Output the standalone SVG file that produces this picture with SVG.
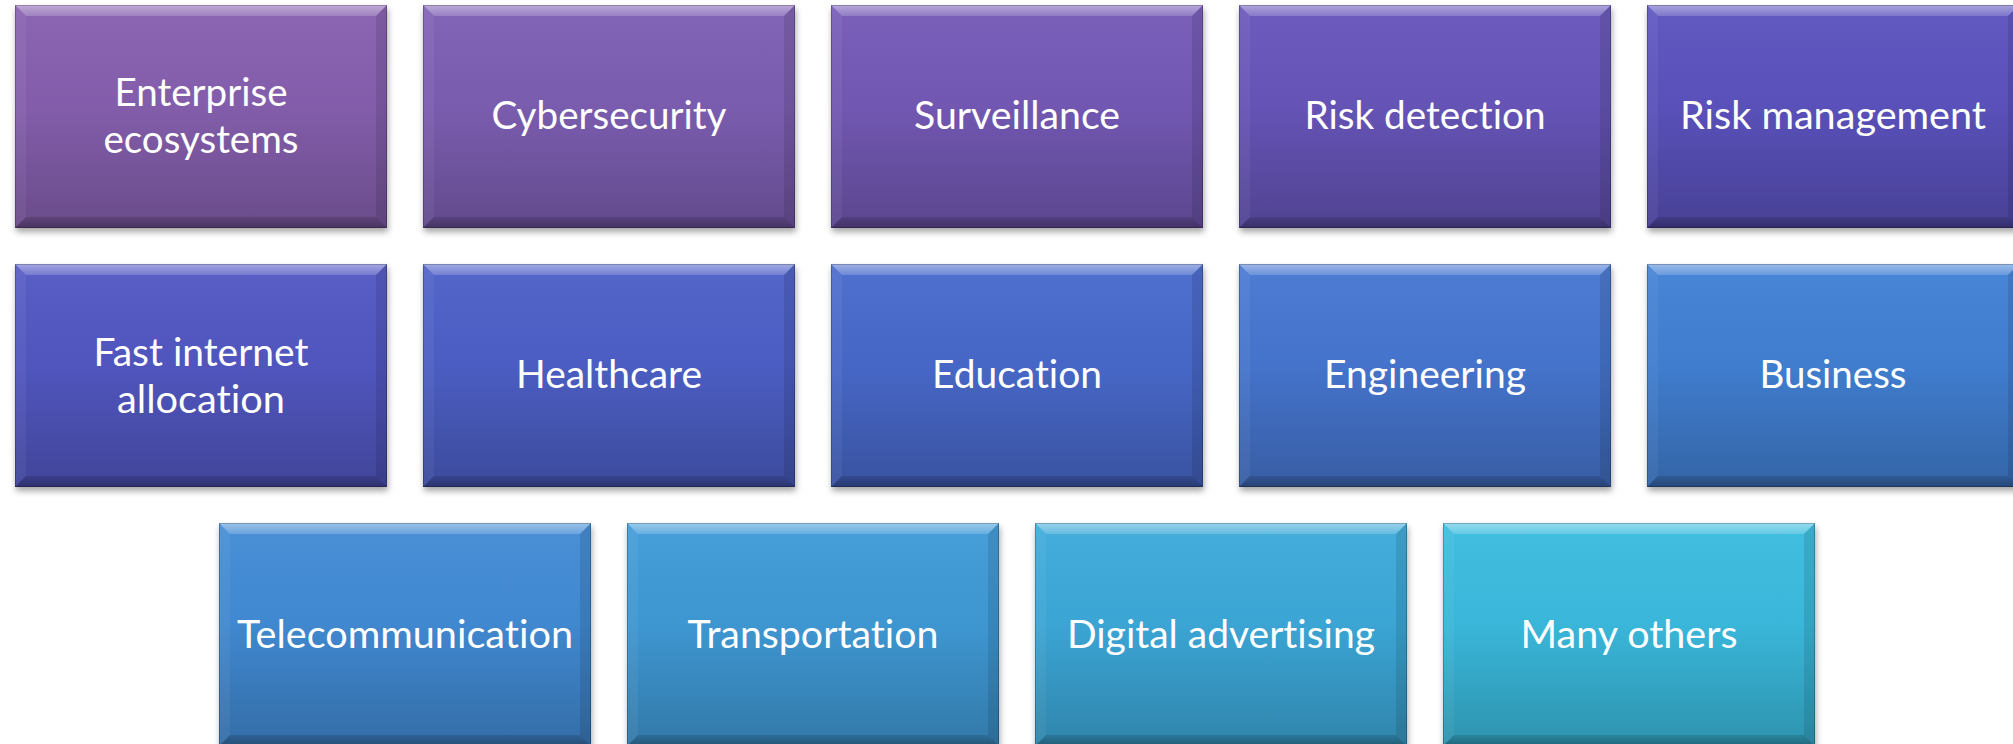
<svg xmlns="http://www.w3.org/2000/svg" xmlns:xlink="http://www.w3.org/1999/xlink" width="2013" height="744" viewBox="0 0 2013 744">
<style>
  .lbl { font-family: Lato, "Open Sans", "Liberation Sans", sans-serif; font-size: 38px; fill: #ffffff; text-anchor: middle; font-variant-ligatures: none; font-feature-settings: "liga" 0, "clig" 0; }
  .shade { fill: url(#shade); }
  .base { filter: url(#shadow); }
</style>
<defs>
  <linearGradient id="shade" x1="0" y1="0" x2="0" y2="1">
    <stop offset="0" stop-color="#ffffff" stop-opacity="0.04"/>
    <stop offset="0.45" stop-color="#000000" stop-opacity="0.03"/>
    <stop offset="1" stop-color="#000000" stop-opacity="0.22"/>
  </linearGradient>
  <linearGradient id="topBevel" x1="0" y1="0" x2="0" y2="1">
    <stop offset="0" stop-color="#ffffff" stop-opacity="0.45"/>
    <stop offset="1" stop-color="#ffffff" stop-opacity="0.18"/>
  </linearGradient>
  <linearGradient id="botBevel" x1="0" y1="0" x2="0" y2="1">
    <stop offset="0" stop-color="#000000" stop-opacity="0.12"/>
    <stop offset="1" stop-color="#000000" stop-opacity="0.3"/>
  </linearGradient>
  <filter id="shadow" x="-5%" y="-5%" width="112%" height="115%">
    <feDropShadow dx="1" dy="4" stdDeviation="3" flood-color="#000000" flood-opacity="0.35"/>
  </filter>
  <g id="bevel">
    <polygon points="0,0 372,0 361,11 11,11" fill="url(#topBevel)"/>
    <polygon points="0,0 11,11 11,212 0,223" fill="#ffffff" fill-opacity="0.05"/>
    <polygon points="372,0 372,223 361,212 361,11" fill="#000000" fill-opacity="0.1"/>
    <polygon points="0,223 11,212 361,212 372,223" fill="url(#botBevel)"/>
    <rect x="0.5" y="0.5" width="371" height="222" fill="none" stroke="#000000" stroke-opacity="0.22" stroke-width="1"/>
  </g>
</defs>
<rect width="2013" height="744" fill="#ffffff"/>
<g id="connectors"/>

<g id="n-enterprise" transform="translate(15,5)">
  <rect class="base" width="372" height="223" fill="#8761B0"/>
  <rect class="shade" width="372" height="223"/>
  <use href="#bevel"/>
  <text class="lbl" x="186" y="101" textLength="173" lengthAdjust="spacingAndGlyphs">Enterprise</text>
  <text class="lbl" x="186" y="148" textLength="195" lengthAdjust="spacingAndGlyphs">ecosystems</text>
</g>
<g id="n-cybersecurity" transform="translate(423,5)">
  <rect class="base" width="372" height="223" fill="#7E5EB4"/>
  <rect class="shade" width="372" height="223"/>
  <use href="#bevel"/>
  <text class="lbl" x="186" y="124" textLength="235" lengthAdjust="spacingAndGlyphs">Cybersecurity</text>
</g>
<g id="n-surveillance" transform="translate(831,5)">
  <rect class="base" width="372" height="223" fill="#745AB7"/>
  <rect class="shade" width="372" height="223"/>
  <use href="#bevel"/>
  <text class="lbl" x="186" y="124" textLength="206" lengthAdjust="spacingAndGlyphs">Surveillance</text>
</g>
<g id="n-riskdetection" transform="translate(1239,5)">
  <rect class="base" width="372" height="223" fill="#6857BB"/>
  <rect class="shade" width="372" height="223"/>
  <use href="#bevel"/>
  <text class="lbl" x="186" y="124" textLength="241" lengthAdjust="spacingAndGlyphs">Risk detection</text>
</g>
<g id="n-riskmanagement" transform="translate(1647,5)">
  <rect class="base" width="372" height="223" fill="#5C53BF"/>
  <rect class="shade" width="372" height="223"/>
  <use href="#bevel"/>
  <text class="lbl" x="186" y="124" textLength="306" lengthAdjust="spacingAndGlyphs">Risk management</text>
</g>

<g id="n-fastinternet" transform="translate(15,264)">
  <rect class="base" width="372" height="223" fill="#5358C4"/>
  <rect class="shade" width="372" height="223"/>
  <use href="#bevel"/>
  <text class="lbl" x="186" y="102" textLength="215" lengthAdjust="spacingAndGlyphs">Fast internet</text>
  <text class="lbl" x="186" y="149" textLength="168" lengthAdjust="spacingAndGlyphs">allocation</text>
</g>
<g id="n-healthcare" transform="translate(423,264)">
  <rect class="base" width="372" height="223" fill="#4E60C8"/>
  <rect class="shade" width="372" height="223"/>
  <use href="#bevel"/>
  <text class="lbl" x="186" y="124" textLength="186" lengthAdjust="spacingAndGlyphs">Healthcare</text>
</g>
<g id="n-education" transform="translate(831,264)">
  <rect class="base" width="372" height="223" fill="#4A6BCD"/>
  <rect class="shade" width="372" height="223"/>
  <use href="#bevel"/>
  <text class="lbl" x="186" y="124" textLength="170" lengthAdjust="spacingAndGlyphs">Education</text>
</g>
<g id="n-engineering" transform="translate(1239,264)">
  <rect class="base" width="372" height="223" fill="#4677D2"/>
  <rect class="shade" width="372" height="223"/>
  <use href="#bevel"/>
  <text class="lbl" x="186" y="124" textLength="202" lengthAdjust="spacingAndGlyphs">Engineering</text>
</g>
<g id="n-business" transform="translate(1647,264)">
  <rect class="base" width="372" height="223" fill="#4381D5"/>
  <rect class="shade" width="372" height="223"/>
  <use href="#bevel"/>
  <text class="lbl" x="186" y="124" textLength="147" lengthAdjust="spacingAndGlyphs">Business</text>
</g>

<g id="n-telecom" transform="translate(219,523)">
  <rect class="base" width="372" height="223" fill="#428CD6"/>
  <rect class="shade" width="372" height="223"/>
  <use href="#bevel"/>
  <text class="lbl" x="186" y="125" textLength="336" lengthAdjust="spacingAndGlyphs">Telecommunication</text>
</g>
<g id="n-transportation" transform="translate(627,523)">
  <rect class="base" width="372" height="223" fill="#409BD8"/>
  <rect class="shade" width="372" height="223"/>
  <use href="#bevel"/>
  <text class="lbl" x="186" y="125" textLength="251" lengthAdjust="spacingAndGlyphs">Transportation</text>
</g>
<g id="n-digital" transform="translate(1035,523)">
  <rect class="base" width="372" height="223" fill="#3EAADB"/>
  <rect class="shade" width="372" height="223"/>
  <use href="#bevel"/>
  <text class="lbl" x="186" y="125" textLength="308" lengthAdjust="spacingAndGlyphs">Digital advertising</text>
</g>
<g id="n-others" transform="translate(1443,523)">
  <rect class="base" width="372" height="223" fill="#3BBCE0"/>
  <rect class="shade" width="372" height="223"/>
  <use href="#bevel"/>
  <text class="lbl" x="186" y="125" textLength="217" lengthAdjust="spacingAndGlyphs">Many others</text>
</g>
</svg>
